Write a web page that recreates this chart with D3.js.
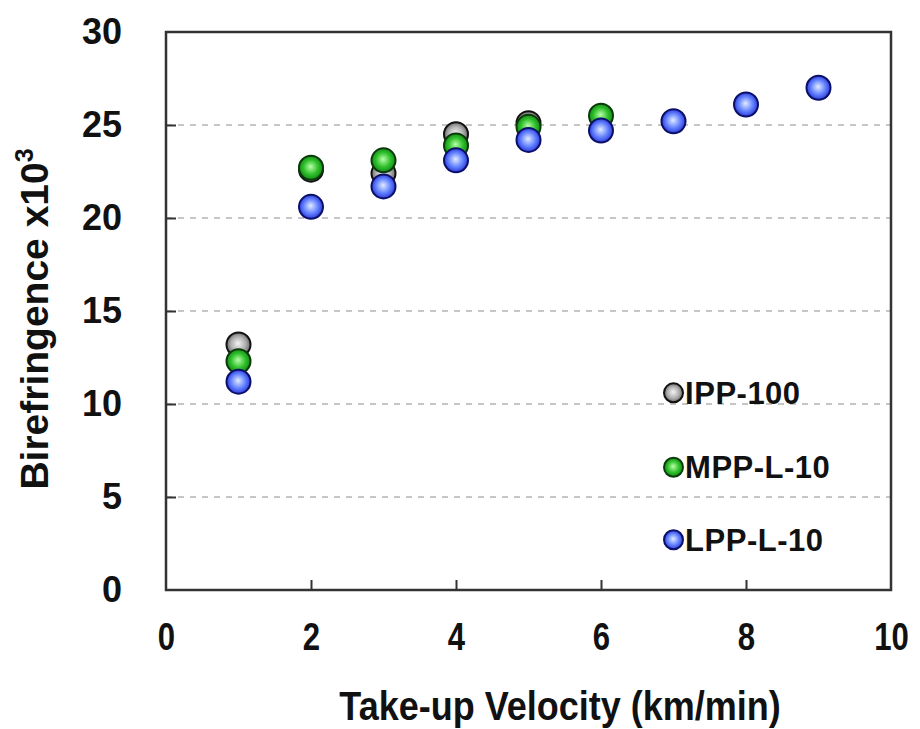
<!DOCTYPE html>
<html>
<head>
<meta charset="utf-8">
<script src="https://cdn.jsdelivr.net/npm/d3@7"></script>
<style>
  html, body { margin: 0; padding: 0; background: #fff; }
  svg { display: block; }
  text { font-family: Arial, "Liberation Sans", sans-serif; font-weight: bold; fill: #111; }
</style>
</head>
<body>
<svg id="chart" width="920" height="729"></svg>
<script>
// Take-up velocity (km/min) and birefringence (x10^3) for each polymer grade
const ippX  = [1, 2, 3, 4, 5];
const ippY  = [13.2, 22.6, 22.4, 24.5, 25.1];
const mppX  = [1, 2, 3, 4, 5, 6];
const mppY  = [12.3, 22.7, 23.1, 23.9, 24.9, 25.5];
const lppX  = [1, 2, 3, 4, 5, 6, 7, 8, 9];
const lppY  = [11.2, 20.6, 21.7, 23.1, 24.2, 24.7, 25.2, 26.1, 27.0];

const seriesNames = ["IPP-100", "MPP-L-10", "LPP-L-10"];
const xTicks = [0, 2, 4, 6, 8, 10];
const yTicks = [0, 5, 10, 15, 20, 25, 30];
const gridValues = [5, 10, 15, 20, 25];

const series = [
  { name: seriesNames[0], xs: ippX, ys: ippY, grad: "gGrey" },
  { name: seriesNames[1], xs: mppX, ys: mppY, grad: "gGreen" },
  { name: seriesNames[2], xs: lppX, ys: lppY, grad: "gBlue" }
];

const svg = d3.select("#chart");
const margin = { left: 166, right: 29, top: 32, bottom: 139 };
const W = 920, H = 729;
const FONT = "Arial, 'Liberation Sans', sans-serif";

const x = d3.scaleLinear().domain([0, 10]).range([margin.left, W - margin.right]);
const y = d3.scaleLinear().domain([0, 30]).range([H - margin.bottom, margin.top]);

// sphere-like radial gradients for markers
const defs = svg.append("defs");
const grads = [
  { id: "gGrey",  c0: "#f4f4f4", c1: "#b0b0b0", c2: "#5a5a5a", stroke: "#111" },
  { id: "gGreen", c0: "#b8ffa8", c1: "#30c02c", c2: "#0c8010", stroke: "#0b3a0b" },
  { id: "gBlue",  c0: "#e0ecff", c1: "#6482ff", c2: "#1e2cd0", stroke: "#0b0f68" }
];
const strokeOf = {};
grads.forEach(g => {
  strokeOf[g.id] = g.stroke;
  const rg = defs.append("radialGradient").attr("id", g.id)
    .attr("cx", "50%").attr("cy", "50%").attr("r", "55%")
    .attr("fx", "48%").attr("fy", "45%");
  rg.append("stop").attr("offset", "0%").attr("stop-color", g.c0);
  rg.append("stop").attr("offset", "55%").attr("stop-color", g.c1);
  rg.append("stop").attr("offset", "100%").attr("stop-color", g.c2);
});

// dashed horizontal gridlines
svg.append("g").selectAll("line").data(gridValues).join("line")
  .attr("x1", x(0)).attr("x2", x(10))
  .attr("y1", d => y(d)).attr("y2", d => y(d))
  .attr("stroke", "#b4b4b4").attr("stroke-width", 1.5)
  .attr("stroke-dasharray", "6,6");

// axes with inward ticks
const xAxis = d3.axisBottom(x).tickValues(xTicks).tickSize(-10).tickPadding(33)
  .tickFormat(d3.format("d"));
const gx = svg.append("g").attr("transform", `translate(0,${y(0)})`).call(xAxis);
gx.select(".domain").remove();
gx.selectAll(".tick line").attr("stroke", "#333").attr("stroke-width", 2)
  .filter(d => d === 0 || d === 10).remove();
gx.selectAll(".tick text").attr("font-size", 38).attr("font-family", FONT)
  .attr("font-weight", "bold").attr("fill", "#111").attr("dy", "0.71em")
  .attr("transform", "scale(0.82,1)");

const yAxis = d3.axisLeft(y).tickValues(yTicks).tickSize(-10).tickPadding(44)
  .tickFormat(d3.format("d"));
const gy = svg.append("g").attr("transform", `translate(${x(0)},0)`).call(yAxis);
gy.select(".domain").remove();
gy.selectAll(".tick line").attr("stroke", "#333").attr("stroke-width", 2)
  .filter(d => d === 0 || d === 30).remove();
gy.selectAll(".tick text").attr("font-size", 36).attr("font-family", FONT)
  .attr("font-weight", "bold").attr("fill", "#111");

// plot frame
svg.append("rect")
  .attr("x", x(0)).attr("y", y(30))
  .attr("width", x(10) - x(0)).attr("height", y(0) - y(30))
  .attr("fill", "none").attr("stroke", "#333").attr("stroke-width", 2.5);

// data markers
series.forEach(s => {
  const pts = s.xs.map((v, i) => [v, s.ys[i]]);
  svg.append("g").selectAll("circle").data(pts).join("circle")
    .attr("cx", d => x(d[0])).attr("cy", d => y(d[1])).attr("r", 12)
    .attr("fill", `url(#${s.grad})`)
    .attr("stroke", strokeOf[s.grad]).attr("stroke-width", 2);
});

// legend
const legendY = [10.6, 6.6, 2.7];
const lg = svg.append("g");
series.forEach((s, i) => {
  const cy = y(legendY[i]);
  lg.append("circle").attr("cx", x(7.0)).attr("cy", cy).attr("r", 9.5)
    .attr("fill", `url(#${s.grad})`).attr("stroke", strokeOf[s.grad]).attr("stroke-width", 2);
  lg.append("text").attr("x", x(7.16)).attr("y", cy).attr("dy", "0.36em")
    .attr("font-size", 31).attr("letter-spacing", 0.5).text(s.name);
});

// axis titles
svg.append("g").attr("transform", `translate(560,706) scale(0.9,1)`)
  .append("text").attr("text-anchor", "middle").attr("dy", "0.35em")
  .attr("font-size", 40).text("Take-up Velocity (km/min)");

const yt = svg.append("text")
  .attr("transform", `translate(34,${(y(0) + y(30)) / 2 + 8}) rotate(-90)`)
  .attr("text-anchor", "middle").attr("dy", "0.35em").attr("font-size", 39);
yt.append("tspan").text("Birefringence x10");
yt.append("tspan").attr("font-size", 25).attr("dy", "-0.6em").text("3");
</script>
</body>
</html>
